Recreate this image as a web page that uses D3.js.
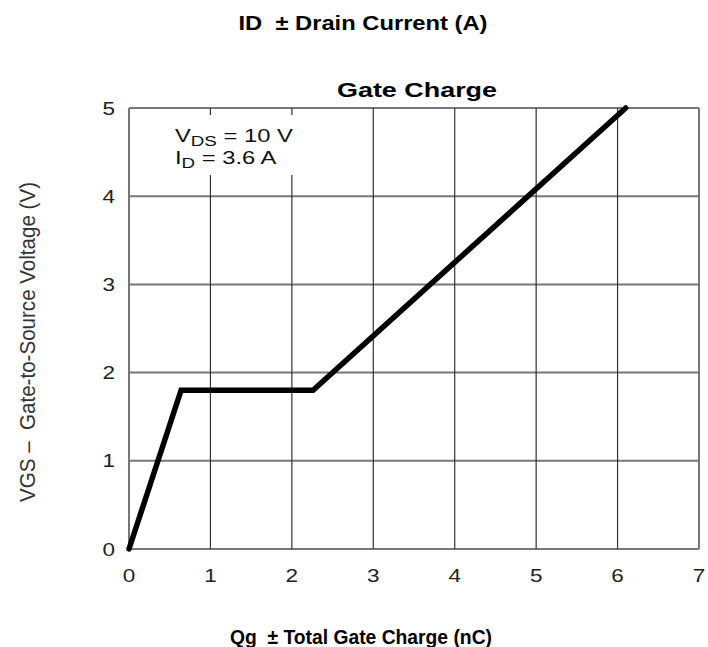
<!DOCTYPE html>
<html>
<head>
<meta charset="utf-8">
<script src="https://cdn.jsdelivr.net/npm/d3@7"></script>
<style>
  body { margin: 0; background: #fff; }
  svg { display: block; font-family: "Liberation Sans", Arial, sans-serif; }
  text { white-space: pre; }
</style>
</head>
<body>
<svg id="chart" width="708" height="647"></svg>
<script>
const xTicks = [0, 1, 2, 3, 4, 5, 6, 7];
const yTicks = [0, 1, 2, 3, 4, 5];
const qg = [0, 0.64, 2.26, 6.1];
const vgs = [0, 1.8, 1.8, 5.0];
const topTitle = "ID  \u00B1 Drain Current (A)";
const chartTitle = "Gate Charge";
const xLabel = "Qg  \u00B1 Total Gate Charge (nC)";
const yLabel = "VGS \u2013  Gate-to-Source Voltage (V)";

const svg = d3.select("#chart");
const m = { left: 129, right: 699, top: 108, bottom: 549 };
const x = d3.scaleLinear().domain([0, 7]).range([m.left, m.right]);
const y = d3.scaleLinear().domain([0, 5]).range([m.bottom, m.top]);
const SX = 1.25; // horizontal stretch of the reference lettering

// grid
const g = svg.append("g");
g.selectAll(".hg").data(yTicks).enter().append("line")
  .attr("y1", d => y(d)).attr("y2", d => y(d))
  .attr("x1", x(0)).attr("x2", x(7))
  .attr("stroke", "#777").attr("stroke-width", 2);
g.selectAll(".vg").data(xTicks).enter().append("line")
  .attr("x1", d => x(d)).attr("x2", d => x(d))
  .attr("y1", y(5)).attr("y2", y(0))
  .attr("stroke", (d, i) => (i === 0 || i === xTicks.length - 1) ? "#777" : "#333")
  .attr("stroke-width", (d, i) => (i === 0 || i === xTicks.length - 1) ? 2 : 1.2);

// annotation box (white background)
svg.append("rect").attr("x", 170).attr("y", 115).attr("width", 127).attr("height", 60).attr("fill", "#fff");
function annot(px, py, main, sub, rest) {
  const t = svg.append("text").attr("transform", `translate(${px},${py}) scale(${SX},1)`)
    .attr("font-size", 19).attr("fill", "#111");
  t.append("tspan").text(main);
  t.append("tspan").attr("font-size", 15).attr("dy", 4).text(sub);
  t.append("tspan").attr("dy", -4).text(rest);
}
annot(175, 142, "V", "DS", " = 10 V");
annot(175, 164, "I", "D", " = 3.6 A");

// axis tick labels
svg.selectAll(".xt").data(xTicks).enter().append("text")
  .attr("transform", d => `translate(${x(d)},582) scale(${SX},1)`)
  .attr("text-anchor", "middle").attr("font-size", 18).attr("fill", "#222")
  .text(d => d);
svg.selectAll(".yt").data(yTicks).enter().append("text")
  .attr("transform", d => `translate(115,${y(d) + 6.5}) scale(${SX},1)`)
  .attr("text-anchor", "end").attr("font-size", 18).attr("fill", "#222")
  .text(d => d);

// data line
const line = d3.line().x((d, i) => x(qg[i])).y((d, i) => y(vgs[i]));
svg.append("path").datum(qg).attr("d", line)
  .attr("fill", "none").attr("stroke", "#000").attr("stroke-width", 5.5)
  .attr("stroke-linejoin", "miter").attr("stroke-linecap", "round");

// titles
svg.append("text").attr("x", 363).attr("y", 30).attr("text-anchor", "middle")
  .attr("font-size", 21).attr("font-weight", "bold").attr("fill", "#000")
  .attr("textLength", 249).attr("lengthAdjust", "spacingAndGlyphs").text(topTitle);
svg.append("text").attr("x", 417).attr("y", 97).attr("text-anchor", "middle")
  .attr("font-size", 21).attr("font-weight", "bold").attr("fill", "#000")
  .attr("textLength", 160).attr("lengthAdjust", "spacingAndGlyphs").text(chartTitle);
svg.append("text").attr("x", 361).attr("y", 644).attr("text-anchor", "middle")
  .attr("font-size", 21).attr("font-weight", "bold").attr("fill", "#000")
  .attr("textLength", 262).attr("lengthAdjust", "spacingAndGlyphs").text(xLabel);
svg.append("text").attr("transform", `translate(35,342) scale(${SX},1) rotate(-90)`)
  .attr("text-anchor", "middle").attr("font-size", 17).attr("fill", "#333")
  .attr("textLength", 320).attr("lengthAdjust", "spacingAndGlyphs").text(yLabel);
</script>
</body>
</html>
